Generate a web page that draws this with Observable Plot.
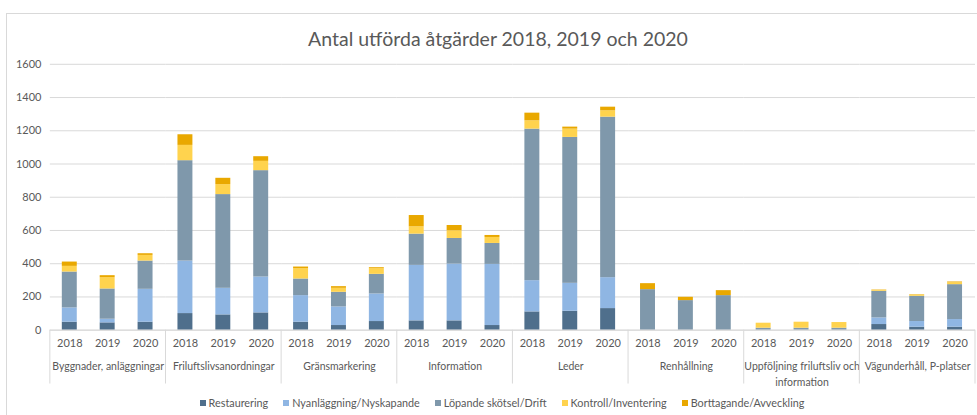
<!DOCTYPE html>
<html><head><meta charset="utf-8">
<script src="https://cdn.jsdelivr.net/npm/d3@7"></script>
<script src="https://cdn.jsdelivr.net/npm/@observablehq/plot@0.6"></script>
<style>
html,body{margin:0;padding:0;background:#fff;overflow:hidden;width:977px;height:415px;}
#wrap{position:relative;width:977px;height:415px;font-family:Lato,sans-serif;color:#595959;overflow:hidden;}
#frame{position:absolute;left:6px;top:13px;width:1000px;height:500px;border:1px solid #d9d9d9;box-sizing:border-box;}
#title{position:absolute;left:0;width:996px;top:26px;text-align:center;font-size:19.5px;line-height:26px;}
#chart{position:absolute;left:0;top:0;}
#legend{position:absolute;top:395px;left:0;width:1004px;display:flex;justify-content:center;gap:15px;font-size:10.8px;line-height:16px;}
#legend span.sw{display:inline-block;width:6px;height:6px;margin-right:3px;vertical-align:middle;position:relative;top:-1px;}
</style></head>
<body><div id="wrap"><div id="frame"></div><div id="chart"></div><div id="title"></div><div id="legend"></div></div>
<script>
const title = "Antal utförda åtgärder 2018, 2019 och 2020";
const categories = ["Byggnader, anläggningar","Friluftslivsanordningar","Gränsmarkering","Information","Leder","Renhållning","Uppföljning friluftsliv och information","Vägunderhåll, P-platser"];
const categoryLabels = ["Byggnader, anläggningar","Friluftslivsanordningar","Gränsmarkering","Information","Leder","Renhållning","Uppföljning friluftsliv och\ninformation","Vägunderhåll, P-platser"];
const years = ["2018","2019","2020"];
const seriesNames = ["Restaurering","Nyanläggning/Nyskapande","Löpande skötsel/Drift","Kontroll/Inventering","Borttagande/Avveckling"];
const seriesColors = ["#4f6f8c","#8fb6e3","#7f98ab","#ffd34e","#e9a800"];
const yTicks = [0,200,400,600,800,1000,1200,1400,1600];
// values per category (in order) × year (2018, 2019, 2020)
const restaurering = [48,44,48, 100,92,104, 48,28,52, 56,56,28, 110,114,130, 0,0,0, 0,0,0, 34,18,18];
const nyanlaggning = [86,22,198, 316,160,216, 160,112,166, 334,342,368, 188,168,186, 0,0,0, 0,0,0, 40,34,46];
const lopande = [216,182,170, 604,564,640, 100,88,118, 188,154,126, 912,878,966, 244,178,208, 12,12,12, 160,152,210];
const kontroll = [34,68,34, 92,60,56, 62,24,34, 44,46,36, 50,50,38, 0,0,0, 30,36,34, 6,8,12];
const borttagande = [26,12,10, 64,38,28, 10,10,6, 68,32,12, 46,12,22, 36,20,30, 0,0,0, 2,2,4];

const seriesValues = [restaurering, nyanlaggning, lopande, kontroll, borttagande];
const data = [];
seriesNames.forEach((s, si) => {
  categories.forEach((c, ci) => {
    years.forEach((y, yi) => {
      data.push({type: s, cat: c, year: y, value: seriesValues[si][ci*3+yi]});
    });
  });
});

document.getElementById("title").textContent = title;

const W = 980, H = 392;
const chart = Plot.plot({
  width: W, height: H,
  marginLeft: 47, marginRight: 0, marginTop: 64, marginBottom: 61.3,
  style: {fontFamily: "Lato, sans-serif", fontSize: "11px", color: "#595959", background: "transparent", overflow: "visible"},
  fx: {domain: categories, padding: 0},
  x: {domain: years, paddingInner: 0.6, paddingOuter: 0.3},
  y: {domain: [0, 1600]},
  color: {domain: seriesNames, range: seriesColors},
  marks: [
    Plot.gridY(yTicks, {stroke: "#d9d9d9", strokeOpacity: 1}),
    Plot.barY(data, {fx: "cat", x: "year", y: "value", fill: "type"}),
    Plot.ruleY([0], {stroke: "#d9d9d9"}),
    Plot.axisY(yTicks, {tickSize: 0, tickPadding: 9, fontSize: 11, label: null, tickFormat: d => String(d)}),
    Plot.axisX({tickSize: 0, tickPadding: 9, fontSize: 11, label: null}),
    Plot.axisFx({anchor: "bottom", tickSize: 0, tickPadding: 28, fontSize: 10.5, lineHeight: 1.55, label: null,
      tickFormat: d => categoryLabels[categories.indexOf(d)]})
  ]
});
document.getElementById("chart").appendChild(chart);

// group bracket lines below the axis, positioned with the fx scale
const fx = chart.scale("fx");
const bounds = categories.map(c => fx.apply(c));
bounds.push(fx.apply(categories[categories.length-1]) + fx.bandwidth);
const y0 = chart.scale("y").apply(0);
const svg = d3.select(chart);
svg.append("g").selectAll("line").data(bounds).join("line")
  .attr("x1", d => d).attr("x2", d => d)
  .attr("y1", y0).attr("y2", y0 + 54)
  .attr("stroke", "#d9d9d9");

const legend = document.getElementById("legend");
seriesNames.forEach((s, i) => {
  const item = document.createElement("div");
  const sw = document.createElement("span");
  sw.className = "sw"; sw.style.background = seriesColors[i];
  item.appendChild(sw);
  item.appendChild(document.createTextNode(s));
  legend.appendChild(item);
});
</script></body></html>
